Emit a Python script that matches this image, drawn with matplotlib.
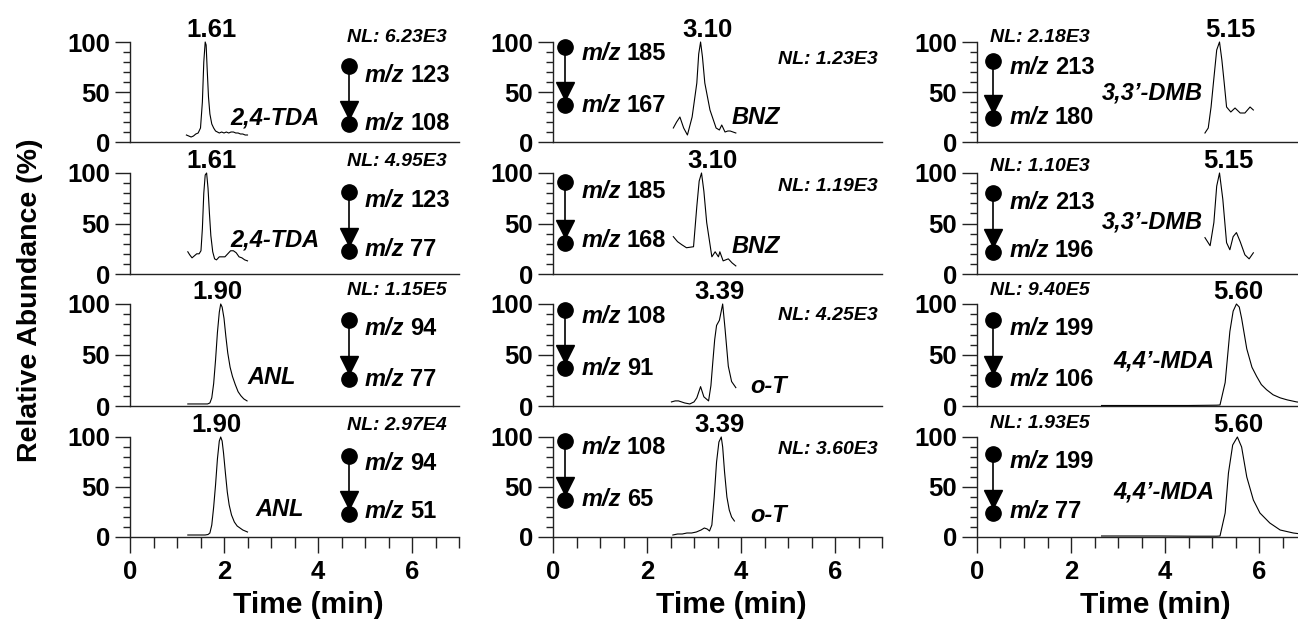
import matplotlib
matplotlib.use('Agg')
import matplotlib.pyplot as plt
from matplotlib.ticker import MultipleLocator, FixedLocator

plt.rcParams['font.family'] = ['Liberation Sans', 'DejaVu Sans']
plt.rcParams['font.weight'] = 'bold'

# ---------------- data ----------------
compounds = [["2,4-TDA", "BNZ", "3,3\u2019-DMB"],
             ["2,4-TDA", "BNZ", "3,3\u2019-DMB"],
             ["ANL", "o-T", "4,4\u2019-MDA"],
             ["ANL", "o-T", "4,4\u2019-MDA"]]
peak_labels = [["1.61", "3.10", "5.15"],
               ["1.61", "3.10", "5.15"],
               ["1.90", "3.39", "5.60"],
               ["1.90", "3.39", "5.60"]]
nl_labels = [["NL: 6.23E3", "NL: 1.23E3", "NL: 2.18E3"],
             ["NL: 4.95E3", "NL: 1.19E3", "NL: 1.10E3"],
             ["NL: 1.15E5", "NL: 4.25E3", "NL: 9.40E5"],
             ["NL: 2.97E4", "NL: 3.60E3", "NL: 1.93E5"]]
precursor_mz = [["123", "185", "213"],
                ["123", "185", "213"],
                ["94", "108", "199"],
                ["94", "108", "199"]]
product_mz = [["108", "167", "180"],
              ["77", "168", "196"],
              ["77", "91", "106"],
              ["51", "65", "77"]]

# traces: time (min) and relative abundance (%)
t00 = [1.20, 1.25, 1.30, 1.35, 1.40, 1.45, 1.50, 1.54, 1.57, 1.60, 1.62, 1.64, 1.67, 1.70, 1.74,
       1.78, 1.82, 1.86, 1.90, 1.95, 2.00, 2.05, 2.10, 2.15, 2.20, 2.25, 2.30, 2.35, 2.40, 2.45, 2.50]
a00 = [7, 6, 5, 6, 8, 9, 14, 40, 80, 100, 97, 75, 45, 28, 18,
       14, 11, 10, 9, 10, 9, 10, 9, 10, 10, 9, 9, 8, 8, 7, 7]
t10 = [1.23, 1.27, 1.32, 1.37, 1.42, 1.47, 1.51, 1.54, 1.57, 1.60, 1.63, 1.66, 1.69, 1.72,
       1.76, 1.80, 1.84, 1.90, 1.96, 2.02, 2.08, 2.14, 2.20, 2.26, 2.32, 2.38, 2.44, 2.50]
a10 = [22, 19, 16, 18, 20, 20, 23, 45, 80, 98, 100, 85, 60, 38,
       22, 15, 14, 17, 17, 17, 20, 23, 23, 21, 17, 16, 14, 13]
t20 = [1.23, 1.40, 1.55, 1.65, 1.70, 1.74, 1.78, 1.82, 1.86, 1.90, 1.93, 1.96, 2.00, 2.04,
       2.08, 2.13, 2.18, 2.24, 2.30, 2.36, 2.42, 2.49]
a20 = [2, 2, 2, 2, 3, 8, 22, 45, 72, 92, 100, 97, 86, 68,
       52, 38, 29, 21, 14, 10, 7, 5]
t30 = [1.23, 1.35, 1.50, 1.60, 1.66, 1.70, 1.74, 1.78, 1.82, 1.86, 1.90, 1.93, 1.96, 1.99,
       2.03, 2.07, 2.11, 2.16, 2.22, 2.28, 2.34, 2.40, 2.45, 2.50]
a30 = [2, 2, 2, 2, 2.5, 4, 12, 30, 52, 78, 96, 100, 96, 84,
       64, 45, 32, 22, 15, 11, 9, 7, 6, 5]
t01 = [2.56, 2.63, 2.70, 2.78, 2.86, 2.96, 3.06, 3.10, 3.14, 3.18, 3.23, 3.34, 3.47, 3.54,
       3.59, 3.66, 3.72, 3.77, 3.83, 3.89]
a01 = [14, 20, 25, 14, 7, 25, 59, 88, 100, 85, 59, 32, 14, 12,
       17, 10, 11, 11, 10, 9]
t11 = [2.56, 2.65, 2.74, 2.84, 2.99, 3.06, 3.11, 3.16, 3.21, 3.27, 3.38, 3.45, 3.52, 3.55,
       3.62, 3.73, 3.81, 3.89]
a11 = [37, 32, 29, 26, 27, 67, 92, 100, 82, 51, 17, 22, 17, 22,
       13, 15, 11, 8]
t21 = [2.52, 2.60, 2.67, 2.80, 2.91, 3.00, 3.06, 3.14, 3.21, 3.31, 3.36, 3.40, 3.44, 3.48,
       3.54, 3.58, 3.61, 3.66, 3.73, 3.80, 3.89]
a21 = [4, 5, 5, 3, 2, 4, 8, 19, 9, 5, 20, 43, 65, 79,
       84, 93, 100, 76, 39, 24, 18]
t31 = [2.55, 2.65, 2.75, 2.85, 2.95, 3.05, 3.15, 3.22, 3.28, 3.33, 3.38, 3.43, 3.48, 3.53,
       3.58, 3.61, 3.65, 3.70, 3.75, 3.80, 3.86]
a31 = [2, 3, 3, 4, 4, 5, 7, 9, 8, 6, 12, 40, 75, 95,
       100, 90, 65, 40, 27, 20, 16]
t02 = [4.85, 4.92, 4.98, 5.03, 5.10, 5.16, 5.21, 5.26, 5.31, 5.40, 5.49, 5.60, 5.70, 5.81, 5.88]
a02 = [9, 14, 35, 59, 92, 100, 82, 59, 35, 30, 34, 29, 29, 35, 32]
t12 = [4.85, 4.96, 5.04, 5.10, 5.16, 5.23, 5.31, 5.38, 5.45, 5.52, 5.60, 5.70, 5.79, 5.88]
a12 = [36, 28, 51, 87, 100, 74, 31, 24, 37, 41, 32, 19, 15, 21]
t22 = [2.65, 3.50, 4.50, 5.10, 5.17, 5.28, 5.38, 5.45, 5.52, 5.58, 5.63, 5.74, 5.85, 5.95,
       6.05, 6.16, 6.30, 6.45, 6.60, 6.80, 6.90]
a22 = [0.5, 0.5, 0.5, 0.8, 1, 23, 73, 93, 100, 97, 86, 56, 38, 29,
       21, 16, 11, 8, 6, 4, 3.5]
t32 = [2.65, 3.20, 3.89, 4.60, 5.10, 5.17, 5.28, 5.35, 5.44, 5.54, 5.63, 5.74, 5.88, 6.02,
       6.23, 6.45, 6.73, 6.90]
a32 = [1, 1, 1, 0.8, 0.8, 1, 24, 64, 92, 100, 90, 60, 37, 24,
       14, 7, 4, 3]

times = [[t00, t01, t02], [t10, t11, t12], [t20, t21, t22], [t30, t31, t32]]
abund = [[a00, a01, a02], [a10, a11, a12], [a20, a21, a22], [a30, a31, a32]]

# ---------------- layout (positions only) ----------------
col_left_px = [130, 553, 977]
ax_w_px = 329
row_top_px = [42, 173, 304, 437]
ax_h_px = [100, 101, 102, 100]
W, H = 1298, 620

marker_x = [4.67, 0.26, 0.35]
mz_x = [5.00, 0.61, 0.70]
nl_x = [4.61, 4.79, 0.28]
# per panel: top circle, bottom circle, top text, bottom text, NL y, compound x, compound y, ha, peak label x
pos = {
    (0, 0): (76, 18, 67, 18, 105, 2.13, 24, 'left', 1.74),
    (1, 0): (81, 23, 73, 24, 111, 2.13, 34, 'left', 1.74),
    (2, 0): (84, 26, 76, 26, 113, 2.49, 28, 'left', 1.85),
    (3, 0): (81, 23, 74, 25, 111, 2.66, 27, 'left', 1.83),
    (0, 1): (95, 37, 89, 37, 82, 3.80, 24, 'left', 3.28),
    (1, 1): (91, 31, 82, 33, 87, 3.80, 27, 'left', 3.40),
    (2, 1): (94, 37, 88, 37, 89, 4.19, 19, 'left', 3.55),
    (3, 1): (96, 37, 90, 37, 88, 4.20, 22, 'left', 3.55),
    (0, 2): (81, 24, 74, 24, 105, 4.81, 49, 'right', 5.40),
    (1, 2): (80, 22, 71, 23, 106, 4.81, 51, 'right', 5.35),
    (2, 2): (84, 26, 76, 26, 113, 5.06, 44, 'right', 5.56),
    (3, 2): (83, 24, 75, 26, 113, 5.06, 45, 'right', 5.56),
}

fig = plt.figure(figsize=(W / 100, H / 100), dpi=100)

TICK_FS = 18.5
for r in range(4):
    for c in range(3):
        left = col_left_px[c] / W
        bottom = 1 - (row_top_px[r] + ax_h_px[r]) / H
        ax = fig.add_axes([left, bottom, ax_w_px / W, ax_h_px[r] / H])
        ax.set_facecolor('none')
        ax.set_xlim(0, 7)
        ax.set_ylim(0, 100)
        for s in ['top', 'right']:
            ax.spines[s].set_visible(False)
        for s in ['left', 'bottom']:
            ax.spines[s].set_linewidth(1.0)
            ax.spines[s].set_color('#222222')
        ax.yaxis.set_major_locator(FixedLocator([0, 50, 100]))
        ax.yaxis.set_minor_locator(MultipleLocator(10))
        ax.tick_params(axis='y', which='major', direction='out', length=10.5, width=1.0,
                       labelsize=TICK_FS, pad=4, color='#222222')
        ax.tick_params(axis='y', which='minor', direction='out', length=5, width=1.0, color='#222222')
        ax.xaxis.set_major_locator(FixedLocator([0, 2, 4, 6]))
        ax.xaxis.set_minor_locator(MultipleLocator(0.5))
        if r == 3:
            ax.tick_params(axis='x', which='major', direction='out', length=11.5, width=1.0,
                           labelsize=TICK_FS, pad=5, color='#222222')
            ax.tick_params(axis='x', which='minor', direction='out', length=8, width=1.0, color='#222222')
            ax.set_xlabel('Time (min)', fontsize=21.5, fontweight='bold')
            ax.xaxis.set_label_coords(3.8 / 7, -0.68)
            ax.xaxis.label.set_va('center')
        else:
            ax.tick_params(axis='x', which='both', bottom=False, labelbottom=False)
        for lab in ax.get_xticklabels() + ax.get_yticklabels():
            lab.set_fontweight('bold')

        # trace
        ax.plot(times[r][c], abund[r][c], color='black', lw=0.8, clip_on=False)

        ytop, ybot, ytxt_top, ytxt_bot, ynl, cx, cy, cha, plx = pos[(r, c)]
        mx = marker_x[c]
        tri_y = ybot + 14
        ax.plot([mx, mx], [ytop, tri_y], color='black', lw=1.2, clip_on=False)
        ax.plot([mx], [ytop], 'o', color='black', ms=11, clip_on=False)
        ax.plot([mx], [ybot], 'o', color='black', ms=11, clip_on=False)
        ax.plot([mx], [tri_y], 'v', color='black', ms=12.5, clip_on=False)

        for yy, num in [(ytxt_top, precursor_mz[r][c]), (ytxt_bot, product_mz[r][c])]:
            t1 = ax.text(mz_x[c], yy, 'm/z', fontsize=17, fontweight='bold', style='italic',
                         ha='left', va='center', clip_on=False)
            ax.annotate(num, xy=(1, 0), xycoords=t1, xytext=(4, 0), textcoords='offset points',
                        fontsize=17, fontweight='bold', ha='left', va='bottom', annotation_clip=False)

        ax.text(nl_x[c], ynl, nl_labels[r][c], fontsize=14, fontweight='bold', style='italic',
                ha='left', va='center', clip_on=False)
        ax.text(cx, cy, compounds[r][c], fontsize=17, fontweight='bold', style='italic',
                ha=cha, va='center', clip_on=False)
        ax.text(plx, 105, peak_labels[r][c], fontsize=18.5, fontweight='bold',
                ha='center', va='baseline', clip_on=False)

fig.text(30 / W, 1 - 300 / H, 'Relative Abundance (%)', rotation=90, fontsize=20.5,
         fontweight='bold', ha='center', va='center')

fig.savefig('out.png', dpi=100)
